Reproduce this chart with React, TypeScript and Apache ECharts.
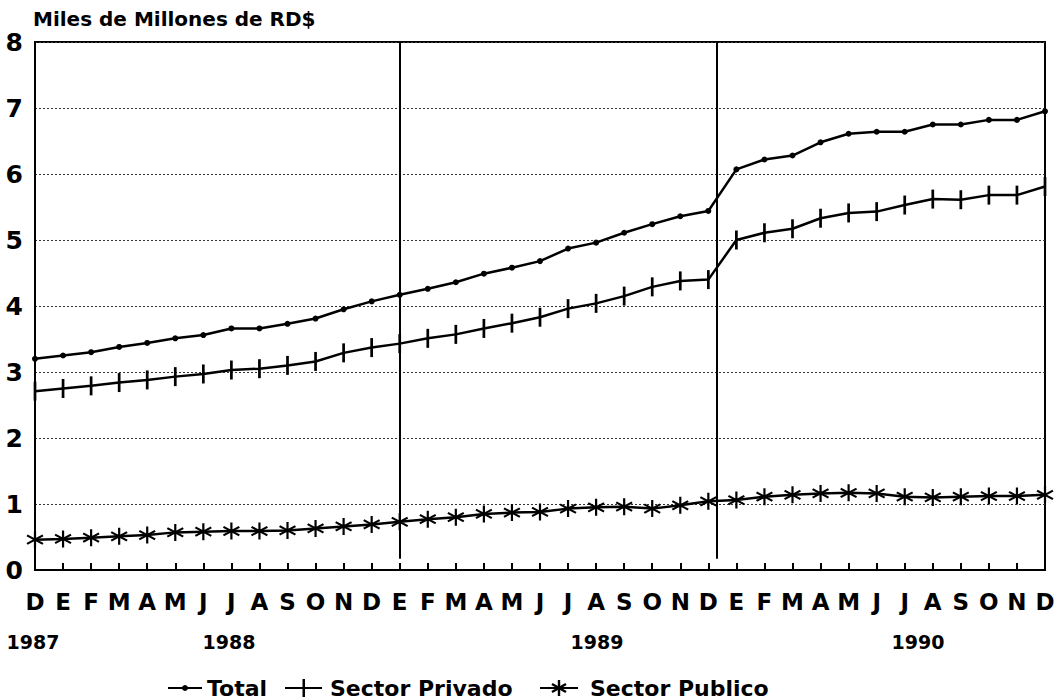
import React, { useEffect, useRef } from 'react';
import * as echarts from 'echarts';

const monthLabels = [
  'D',
  'E', 'F', 'M', 'A', 'M', 'J', 'J', 'A', 'S', 'O', 'N', 'D',
  'E', 'F', 'M', 'A', 'M', 'J', 'J', 'A', 'S', 'O', 'N', 'D',
  'E', 'F', 'M', 'A', 'M', 'J', 'J', 'A', 'S', 'O', 'N', 'D',
];

const totalValues = [
  3.20, 3.25, 3.30, 3.38, 3.44, 3.51, 3.56, 3.66, 3.66, 3.73, 3.81, 3.95, 4.07,
  4.17, 4.26, 4.36, 4.49, 4.58, 4.68, 4.87, 4.96, 5.11, 5.24, 5.36, 5.44,
  6.07, 6.22, 6.28, 6.48, 6.61, 6.64, 6.64, 6.75, 6.75, 6.82, 6.82, 6.95,
];

const privadoValues = [
  2.71, 2.75, 2.79, 2.84, 2.88, 2.93, 2.97, 3.03, 3.05, 3.10, 3.16, 3.29, 3.37,
  3.43, 3.51, 3.57, 3.66, 3.74, 3.83, 3.96, 4.04, 4.15, 4.29, 4.38, 4.40,
  5.00, 5.11, 5.17, 5.33, 5.41, 5.43, 5.53, 5.62, 5.61, 5.68, 5.68, 5.81,
];

const publicoValues = [
  0.46, 0.47, 0.49, 0.51, 0.53, 0.57, 0.58, 0.59, 0.59, 0.60, 0.63, 0.66, 0.69,
  0.73, 0.77, 0.80, 0.85, 0.87, 0.88, 0.93, 0.95, 0.96, 0.93, 0.98, 1.04,
  1.06, 1.11, 1.14, 1.16, 1.17, 1.16, 1.11, 1.10, 1.11, 1.12, 1.12, 1.14,
];

const yearLabels = ['1987', '1988', '1989', '1990'];
const yearCenters = [33, 229, 597, 918];
const dividerPositions = [13, 24.3];

const seriesNames = ['Total', 'Sector Privado', 'Sector Publico'];
const titleText = 'Miles de Millones de RD$';

const FONT = 'DejaVu Sans';

const BAR_PATH = 'path://M0,0h1v7h-1z';
const STAR_PATH =
  'path://M8.8,0L11.2,0L11.2,20L8.8,20Z' +
  'M1.94,3.96L19.26,13.96L18.06,16.04L0.74,6.04Z' +
  'M0.74,13.96L18.06,3.96L19.26,6.04L1.94,16.04Z';

export default function App() {
  const ref = useRef<HTMLDivElement>(null);

  useEffect(() => {
    document.body.style.margin = '0';
    if (!ref.current) return;
    const chart = echarts.init(ref.current, null, { renderer: 'svg' });

    const toPairs = (arr: number[]) => arr.map((v, i) => [i, v]);
    const lineStyle = { color: '#000', width: 2.5 };

    const legendY = 688;
    const legendText = (x: number, text: string) => ({
      type: 'text',
      x,
      y: legendY,
      style: {
        text,
        font: `bold 22px "${FONT}"`,
        fill: '#000',
        textVerticalAlign: 'middle',
        textAlign: 'left',
      },
    });
    const legendLine = (x1: number, x2: number) => ({
      type: 'line',
      shape: { x1, y1: legendY, x2, y2: legendY },
      style: { stroke: '#000', lineWidth: 2 },
    });

    chart.setOption({
      animation: false,
      backgroundColor: '#fff',
      grid: {
        left: 35,
        right: 17,
        top: 42,
        bottom: 130,
        show: true,
        borderColor: '#000',
        borderWidth: 2,
        backgroundColor: 'transparent',
      },
      xAxis: {
        type: 'value',
        min: 0,
        max: monthLabels.length - 1,
        interval: 1,
        axisLine: { show: true, lineStyle: { color: '#000', width: 2 } },
        axisTick: { show: true, inside: true, length: 7, lineStyle: { color: '#000', width: 2 } },
        splitLine: { show: false },
        axisLabel: {
          margin: 20,
          fontFamily: FONT,
          fontWeight: 'bold',
          fontSize: 23,
          color: '#000',
          showMinLabel: true,
          showMaxLabel: true,
          hideOverlap: false,
          formatter: (v: number) => monthLabels[Math.round(v)] ?? '',
        },
      },
      yAxis: {
        type: 'value',
        min: 0,
        max: 8,
        interval: 1,
        axisLine: { show: true, lineStyle: { color: '#000', width: 2 } },
        axisTick: { show: false },
        splitLine: { show: true, lineStyle: { color: '#333', width: 1, type: [2, 2] } },
        axisLabel: {
          margin: 12,
          fontFamily: FONT,
          fontWeight: 'bold',
          fontSize: 25,
          color: '#000',
        },
      },
      series: [
        {
          name: seriesNames[0],
          type: 'line',
          data: toPairs(totalValues),
          symbol: 'circle',
          symbolSize: 6,
          showAllSymbol: true,
          lineStyle,
          itemStyle: { color: '#000' },
          z: 3,
        },
        {
          name: seriesNames[1],
          type: 'line',
          data: toPairs(privadoValues),
          symbol: BAR_PATH,
          symbolKeepAspect: true,
          symbolSize: 19,
          showAllSymbol: true,
          lineStyle,
          itemStyle: { color: '#000' },
          z: 3,
        },
        {
          name: seriesNames[2],
          type: 'line',
          data: toPairs(publicoValues),
          symbol: STAR_PATH,
          symbolSize: 17,
          showAllSymbol: true,
          lineStyle,
          itemStyle: { color: '#000' },
          z: 3,
          markLine: {
            silent: true,
            symbol: ['none', 'none'],
            label: { show: false },
            lineStyle: { color: '#000', width: 2, type: 'solid' },
            data: dividerPositions.map((p) => [
              { coord: [p, 8] },
              { coord: [p, 0.17] },
            ]),
          },
        },
      ],
      graphic: [
        {
          type: 'text',
          x: 33,
          y: 19,
          style: {
            text: titleText,
            font: `bold 20px "${FONT}"`,
            fill: '#000',
            textVerticalAlign: 'middle',
            textAlign: 'left',
          },
        },
        ...yearLabels.map((t, i) => ({
          type: 'text',
          x: yearCenters[i],
          y: 642,
          style: {
            text: t,
            font: `bold 19px "${FONT}"`,
            fill: '#000',
            textVerticalAlign: 'middle',
            textAlign: 'center',
          },
        })),
        // legend: Total
        legendLine(168, 202),
        { type: 'circle', shape: { cx: 185, cy: legendY, r: 3 }, style: { fill: '#000' } },
        legendText(207, seriesNames[0]),
        // legend: Sector Privado
        legendLine(285, 322),
        { type: 'rect', shape: { x: 302.5, y: legendY - 9, width: 2.5, height: 18 }, style: { fill: '#000' } },
        legendText(330, seriesNames[1]),
        // legend: Sector Publico
        legendLine(540, 578),
        { type: 'line', shape: { x1: 559, y1: legendY - 8, x2: 559, y2: legendY + 8 }, style: { stroke: '#000', lineWidth: 2.4 } },
        { type: 'line', shape: { x1: 552, y1: legendY - 4, x2: 566, y2: legendY + 4 }, style: { stroke: '#000', lineWidth: 2.4 } },
        { type: 'line', shape: { x1: 552, y1: legendY + 4, x2: 566, y2: legendY - 4 }, style: { stroke: '#000', lineWidth: 2.4 } },
        legendText(590, seriesNames[2]),
      ],
    });

    return () => {
      chart.dispose();
    };
  }, []);

  return <div ref={ref} style={{ width: 1062, height: 700 }} />;
}
